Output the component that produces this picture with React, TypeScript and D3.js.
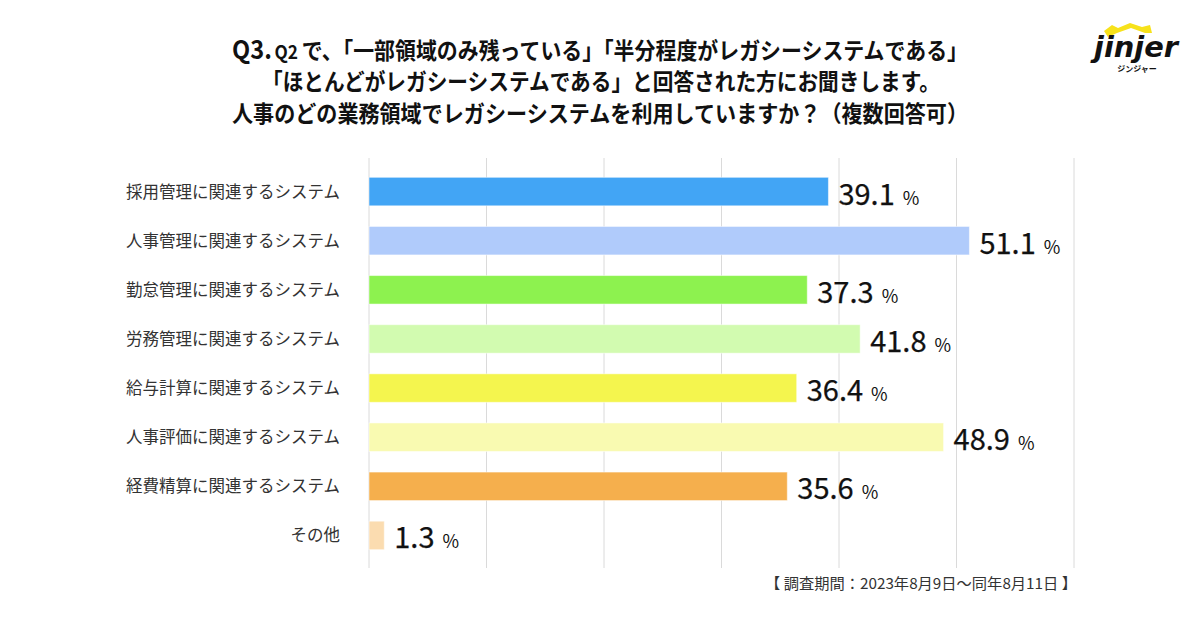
import React from "react";
import * as d3 from "d3";

const categories = [
  "採用管理に関連するシステム",
  "人事管理に関連するシステム",
  "勤怠管理に関連するシステム",
  "労務管理に関連するシステム",
  "給与計算に関連するシステム",
  "人事評価に関連するシステム",
  "経費精算に関連するシステム",
  "その他",
];
const values = [39.1, 51.1, 37.3, 41.8, 36.4, 48.9, 35.6, 1.3];
const colors = ["#42A5F5", "#B0CBFB", "#8DF24F", "#D2FBB0", "#F4F54E", "#F9FAB1", "#F5AF4D", "#FBDCB0"];
const gridTicks = [0, 10, 20, 30, 40, 50, 60];
const titleLines = [
  "「ほとんどがレガシーシステムである」と回答された方にお聞きします。",
  "人事のどの業務領域でレガシーシステムを利用していますか？（複数回答可）",
];
const footer = "【 調査期間：2023年8月9日～同年8月11日 】";

const W = 1200;
const H = 630;
const FONT = "'Noto Sans CJK JP', 'Noto Sans', sans-serif";

export default function App() {
  const x = d3.scaleLinear().domain([0, 60]).range([369, 1074]);
  const y = d3
    .scaleBand<string>()
    .domain(categories)
    .range([167, 560])
    .paddingInner(0.42)
    .paddingOuter(0.21);

  return (
    <svg
      width={W}
      height={H}
      viewBox={`0 0 ${W} ${H}`}
      style={{ position: "absolute", left: 0, top: 0, background: "#fff" }}
      fontFamily={FONT}
    >
      <rect x={0} y={0} width={W} height={H} fill="#fff" />

      {/* Title */}
      <text x={232} y={59} fontSize={23} fontWeight={700} fill="#111" textLength={736} lengthAdjust="spacingAndGlyphs">
        <tspan fontSize={26}>Q3.</tspan>
        <tspan fontSize={19} dx={3}>Q2</tspan>
        <tspan dx={4}>で、「一部領域のみ残っている」「半分程度がレガシーシステムである」</tspan>
      </text>
      <text x={262} y={90} fontSize={23} fontWeight={700} fill="#111" textLength={678} lengthAdjust="spacingAndGlyphs">
        {titleLines[0]}
      </text>
      <text x={232} y={122} fontSize={23} fontWeight={700} fill="#111" textLength={736} lengthAdjust="spacingAndGlyphs">
        {titleLines[1]}
      </text>

      {/* Logo */}
      <g>
        <path
          d="M1104,31 L1112,25 L1118,28 L1130,23 L1142,27 L1150,25 L1152,33 L1145,33 L1131,28 L1117,33 L1108,37 Z"
          fill="#F7E21B"
        />
        <text x={1136} y={57} fontSize={29} fontWeight={800} fontStyle="italic" textAnchor="middle" fill="#111"
          fontFamily="'DejaVu Sans', sans-serif" textLength={84} lengthAdjust="spacingAndGlyphs">
          jinjer
        </text>
        <text x={1137} y={72} fontSize={8} fontWeight={700} textAnchor="middle" fill="#111">ジンジャー</text>
      </g>

      {/* Grid lines */}
      {gridTicks.map((t) => (
        <line key={t} x1={x(t)} x2={x(t)} y1={158} y2={568} stroke="#DADADA" strokeWidth={1} />
      ))}

      {/* Bars */}
      {categories.map((c, i) => {
        const by = y(c)!;
        const bw = y.bandwidth();
        const xe = x(values[i]);
        return (
          <g key={c}>
            <rect x={x(0)} y={by} width={xe - x(0)} height={bw} fill={colors[i]} stroke="#ffffff" strokeOpacity={0.5} strokeWidth={1} />
            <text x={340} y={by + bw / 2 + 6} fontSize={16.5} fill="#333" textAnchor="end">
              {c}
            </text>
            <text x={xe + 10} y={by + bw / 2 + 13} fill="#111">
              <tspan fontSize={29} fontWeight={400} stroke="#111" strokeWidth={0.25}>{values[i].toFixed(1)}</tspan>
              <tspan fontSize={18} dx={8}>%</tspan>
            </text>
          </g>
        );
      })}

      {/* Footer */}
      <text x={1077} y={589} fontSize={15} fill="#333" textAnchor="end" textLength={312} lengthAdjust="spacingAndGlyphs">
        {footer}
      </text>
    </svg>
  );
}
